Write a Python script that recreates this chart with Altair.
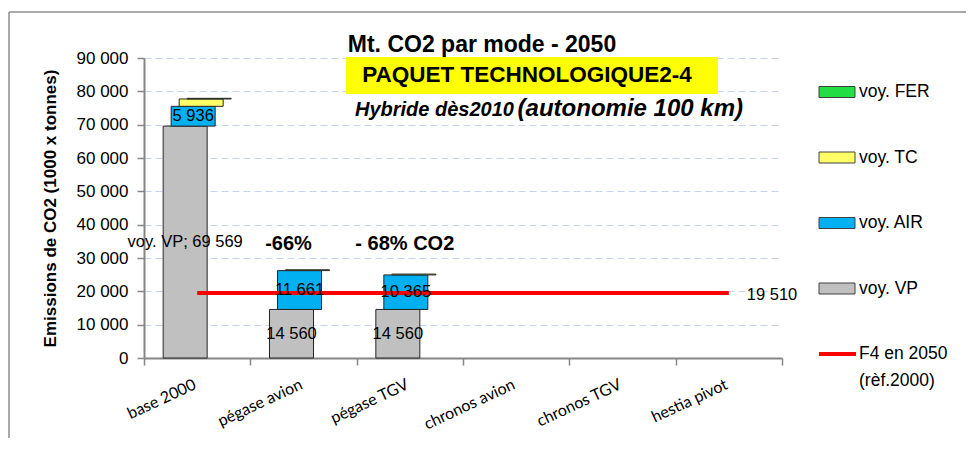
import altair as alt
import pandas as pd

# ---------------- data ----------------
categories = ["base 2000", "pégase avion", "pégase TGV", "chronos avion", "chronos TGV", "hestia pivot"]
series = ["voy. VP", "voy. AIR", "voy. TC", "voy. FER"]
vp = [69569, 14560, 14560, 0, 0, 0]
air = [5936, 11661, 10365, 0, 0, 0]
tc = [2200, 250, 250, 0, 0, 0]
fer = [200, 0, 0, 0, 0, 0]
labelled_series = ["voy. VP", "voy. AIR"]
f4_value = 19510
f4_lines = ["F4 en 2050", "(rèf.2000)"]
reduction_avion = "-66%"
reduction_tgv = "- 68% CO2"
title_main = "Mt. CO2 par mode - 2050"
title_box = "PAQUET TECHNOLOGIQUE2-4"
subtitle_a = "Hybride  dès2010"
subtitle_b = "(autonomie 100 km)"
y_title = "Emissions de CO2 (1000 x tonnes)"
y_ticks = [0, 10000, 20000, 30000, 40000, 50000, 60000, 70000, 80000, 90000]

# ---------------- styles ----------------
FONT = "Liberation Sans"
colors = {"voy. VP": "#c0c0c0", "voy. AIR": "#00b0f0", "voy. TC": "#ffff66", "voy. FER": "#22dd44"}
offsets = {"voy. VP": -12, "voy. AIR": -4, "voy. TC": 4, "voy. FER": 12}
EDGE = "#262626"
AXIS_GRAY = "#868686"


def fmt(v):
    return f"{v:,}".replace(",", " ")


rows = []
for i, c in enumerate(categories):
    for k, (s, vals) in enumerate(zip(series, [vp, air, tc, fer])):
        v = vals[i]
        if v > 0:
            lab = ""
            if s in labelled_series:
                lab = f"{s}; {fmt(v)}" if i == 0 and s == "voy. VP" else fmt(v)
            rows.append({"cat": c, "series": s, "value": v, "order": k, "label": lab})
df = pd.DataFrame(rows)

x_scale = alt.Scale(domain=categories, paddingInner=0, paddingOuter=0)
x_axis = alt.Axis(
    title=None, labelAngle=335, labelAlign="right", labelBaseline="top",
    labelFont="Lato", labelFontSize=16, labelColor="#000000", labelPadding=11, labelOffset=-6,
    tickBand="extent", tickSize=7, tickColor=AXIS_GRAY, tickWidth=1.5,
    domainColor=AXIS_GRAY, domainWidth=2, grid=False, labelOverlap=False,
)
y_scale = alt.Scale(domain=[0, 90000], nice=False, zero=True)
y_axis = alt.Axis(
    values=y_ticks, tickCount=len(y_ticks), labelOverlap=False,
    labelExpr="replace(format(datum.value, ','), ',', ' ')",
    labelFont=FONT, labelFontSize=17, labelColor="#000000", labelPadding=9,
    tickSize=7, tickColor=AXIS_GRAY, tickWidth=1.5, domainColor=AXIS_GRAY, domainWidth=2,
    grid=True, gridColor="#c5d3ef", gridDash=[7, 4], gridWidth=1,
    title=y_title, titleFont=FONT, titleFontSize=17, titleFontWeight="bold", titleColor="#000000",
    titleAngle=270, titleX=-94, titleY=150, titleAlign="center", titleBaseline="middle",
)


def X():
    return alt.X("cat:N", scale=x_scale, axis=x_axis)


def Y(field):
    return alt.Y(field, scale=y_scale, axis=y_axis)


stacked = alt.Chart(df).transform_stack(
    stack="value", as_=["y0", "y1"], groupby=["cat"], sort=[alt.SortField("order", order="ascending")]
)

layers = []
for s in series:
    layers.append(
        stacked.transform_filter(alt.datum.series == s)
        .mark_bar(width=44, xOffset=offsets[s], fill=colors[s], stroke=EDGE, strokeWidth=1)
        .encode(x=X(), y=Y("y1:Q"), y2="y0:Q")
    )

# red reference line
df_f4 = pd.DataFrame({"cat": categories, "v": [f4_value] * len(categories)})
layers.append(
    alt.Chart(df_f4).mark_line(color="#ff0000", strokeWidth=4).encode(x=X(), y=Y("v:Q"))
)
layers.append(
    alt.Chart(df_f4.tail(1)).transform_calculate(t=f"'{fmt(f4_value)}'")
    .mark_text(align="left", baseline="middle", dx=18, dy=2, font=FONT, fontSize=16.5, color="#000000")
    .encode(x=X(), y=Y("v:Q"), text="t:N")
)

# data labels
for s in labelled_series:
    layers.append(
        stacked.transform_filter(alt.datum.series == s)
        .transform_calculate(ymid="(datum.y0 + datum.y1) / 2")
        .mark_text(xOffset=offsets[s], baseline="middle", font=FONT, fontSize=16.5, color="#000000")
        .encode(x=X(), y=Y("ymid:Q"), text="label:N")
    )

# reduction annotations
layers.append(
    alt.Chart(pd.DataFrame({"cat": ["pégase avion"], "t": [reduction_avion]}))
    .mark_text(dx=-15, font=FONT, fontSize=20, fontWeight="bold", color="#000000", baseline="alphabetic")
    .encode(x=X(), y=alt.value(192), text="t:N")
)
layers.append(
    alt.Chart(pd.DataFrame({"cat": ["pégase TGV"], "t": [reduction_tgv]}))
    .mark_text(dx=-5, font=FONT, fontSize=20, fontWeight="bold", color="#000000", baseline="alphabetic")
    .encode(x=X(), y=alt.value(192), text="t:N")
)

one = pd.DataFrame({"a": [0]})

# titles
layers.append(
    alt.Chart(one).mark_rect(color="#ffff00").encode(
        x=alt.value(202), x2=alt.value(574), y=alt.value(-1), y2=alt.value(36))
)
layers.append(
    alt.Chart(one).mark_text(font=FONT, fontSize=23, fontWeight="bold", color="#000000",
                             align="center", baseline="alphabetic", text=title_main)
    .encode(x=alt.value(338), y=alt.value(-6))
)
layers.append(
    alt.Chart(one).mark_text(font=FONT, fontSize=22.5, fontWeight="bold", color="#000000",
                             align="center", baseline="alphabetic", text=title_box)
    .encode(x=alt.value(383), y=alt.value(24))
)
layers.append(
    alt.Chart(one).mark_text(font=FONT, fontSize=20, fontWeight="bold", fontStyle="italic", color="#000000",
                             align="left", baseline="alphabetic", text=subtitle_a)
    .encode(x=alt.value(211), y=alt.value(58))
)
layers.append(
    alt.Chart(one).mark_text(font=FONT, fontSize=24, fontWeight="bold", fontStyle="italic", color="#000000",
                             align="right", baseline="alphabetic", text=subtitle_b)
    .encode(x=alt.value(599), y=alt.value(58))
)

# legend
legend_order = list(reversed(series))
for i, s in enumerate(legend_order):
    yc = 34 + i * 65.5
    layers.append(
        alt.Chart(one).mark_rect(fill=colors[s], stroke="#404040", strokeWidth=1).encode(
            x=alt.value(675), x2=alt.value(711), y=alt.value(yc - 5.5), y2=alt.value(yc + 5.5))
    )
    layers.append(
        alt.Chart(one).mark_text(font=FONT, fontSize=17.5, color="#000000", align="left",
                                 baseline="middle", text=s)
        .encode(x=alt.value(715), y=alt.value(yc))
    )
yl = 34 + len(legend_order) * 65.5
layers.append(
    alt.Chart(one).mark_rule(color="#ff0000", strokeWidth=4).encode(
        x=alt.value(675), x2=alt.value(712), y=alt.value(yl))
)
for j, t in enumerate(f4_lines):
    layers.append(
        alt.Chart(one).mark_text(font=FONT, fontSize=17.5, color="#000000", align="left",
                                 baseline="middle", text=t)
        .encode(x=alt.value(715), y=alt.value(yl + j * 27))
    )

# outer frame
layers.append(
    alt.Chart(one).mark_rule(color="#8c8c8c", strokeWidth=1.5).encode(
        x=alt.value(-135), y=alt.value(-46), y2=alt.value(384))
)
layers.append(
    alt.Chart(one).mark_rule(color="#8c8c8c", strokeWidth=1.5).encode(
        x=alt.value(-135), x2=alt.value(822), y=alt.value(-46))
)

chart = (
    alt.layer(*layers)
    .properties(
        width=638, height=300,
        padding={"left": 136, "top": 50, "right": 184, "bottom": 80},
        autosize=alt.AutoSizeParams(type="none"),
        background="white",
    )
    .configure_view(stroke=None)
)

chart.save("out.html", embed_options={"renderer": "svg", "actions": False})
